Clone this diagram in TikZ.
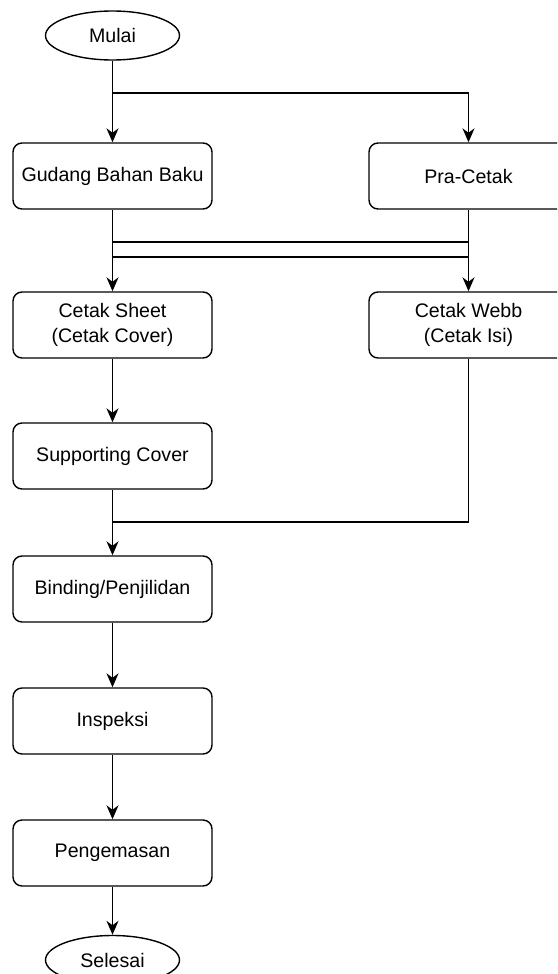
\documentclass[tikz,border=0pt]{standalone}
\usepackage{fontspec}
\setmainfont{Liberation Sans}
\usetikzlibrary{shapes.geometric,arrows.meta}
\begin{document}
\begin{tikzpicture}[x=1pt,y=-1pt,
  txt/.style={font=\fontsize{19.6}{25}\selectfont},
  proc/.style={txt, draw, rounded corners=9pt, minimum width=199pt, minimum height=66pt, align=center, line width=1.4pt, inner sep=0pt},
  term/.style={txt, draw, ellipse, minimum width=134pt, minimum height=49pt, inner sep=0pt, line width=1.4pt},
  conn/.style={line width=1.4pt, -{Stealth[length=14pt,width=12pt,inset=4.5pt]}},
  plainline/.style={line width=1.4pt}]
\clip (0,0) rectangle (557,974);
\fill[white] (0,0) rectangle (557,974);
\node[term] (mulai) at (112.5,35.5) {Mulai};
\node[proc] (gudang) at (112.5,176) {Gudang Bahan Baku};
\node[proc] (pracetak) at (468.5,176) {Pra-Cetak};
\node[proc] (sheet) at (112.5,325) {Cetak Sheet\\(Cetak Cover)};
\node[proc] (webb) at (468.5,325) {Cetak Webb\\(Cetak Isi)};
\node[proc] (support) at (112.5,456) {Supporting Cover};
\node[proc] (binding) at (112.5,589) {Binding/Penjilidan};
\node[proc] (inspeksi) at (112.5,721) {Inspeksi};
\node[proc] (kemas) at (112.5,853) {Pengemasan};
\node[term] (selesai) at (112.5,960) {Selesai};
\coordinate (split) at (112.5,93);
\coordinate (l1) at (112.5,242);
\coordinate (r1) at (468.5,242);
\coordinate (l2) at (112.5,257);
\coordinate (r2) at (468.5,257);
\coordinate (merge) at (112.5,522);
\draw[conn] (mulai) -- (gudang);
\draw[conn] (split) -| (pracetak);
\draw[conn] (gudang) -- (sheet);
\draw[conn] (pracetak) -- (webb);
\draw[plainline] (l1) -- (r1);
\draw[plainline] (l2) -- (r2);
\draw[conn] (sheet) -- (support);
\draw[conn] (support) -- (binding);
\draw[plainline] (webb) |- (merge);
\draw[conn] (binding) -- (inspeksi);
\draw[conn] (inspeksi) -- (kemas);
\draw[conn] (kemas) -- (selesai);
\end{tikzpicture}
\end{document}
